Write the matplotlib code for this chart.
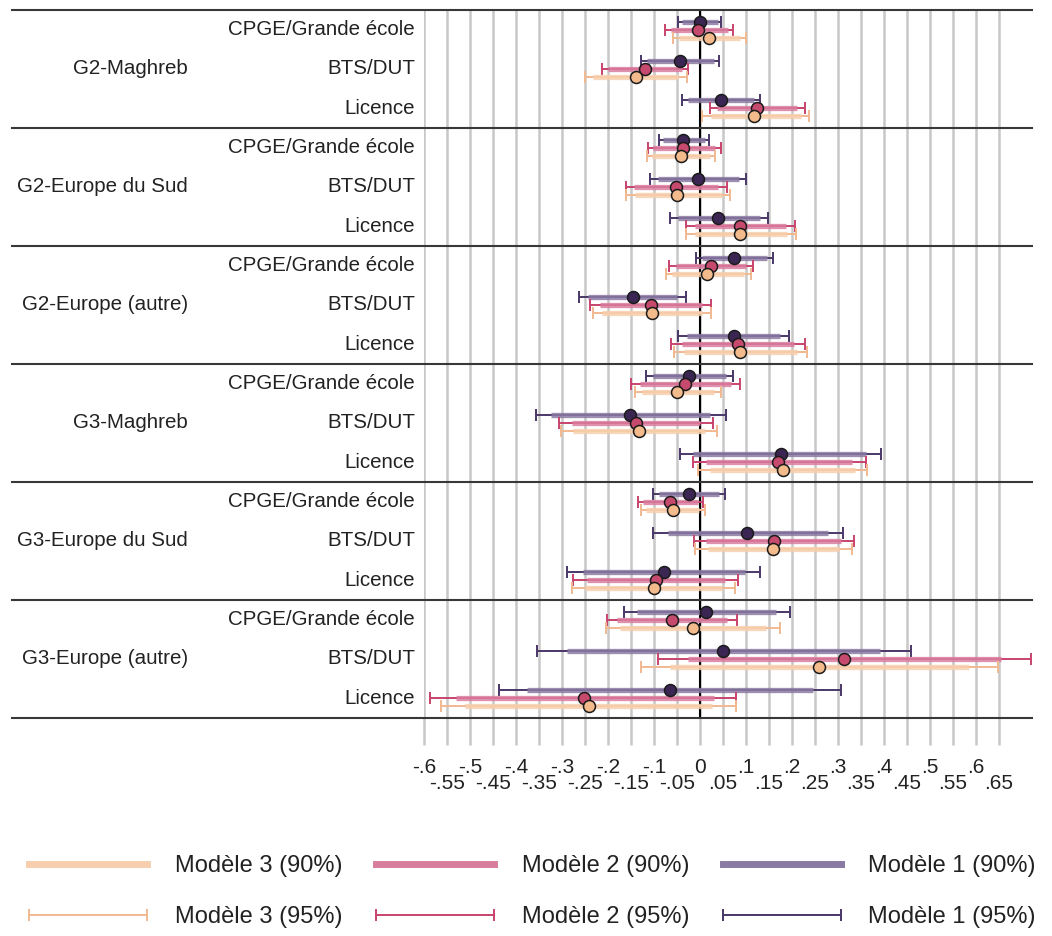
import numpy as np
import matplotlib
matplotlib.use("Agg")
import matplotlib.pyplot as plt
from matplotlib.lines import Line2D

plt.rcParams['font.family'] = ['Liberation Sans', 'DejaVu Sans']

# Categories (top to bottom)
groups = ["G2-Maghreb", "G2-Europe du Sud", "G2-Europe (autre)",
          "G3-Maghreb", "G3-Europe du Sud", "G3-Europe (autre)"]
levels = ["CPGE/Grande école", "BTS/DUT", "Licence"]

# Modèle 1: coef, 95% CI, 90% CI
m1_coef = [0.000, -0.043, 0.046, -0.036, -0.004, 0.040, 0.074, -0.146, 0.074,
           -0.023, -0.151, 0.176, -0.024, 0.103, -0.078, 0.014, 0.051, -0.066]
m1_lo95 = [-0.048, -0.128, -0.040, -0.090, -0.109, -0.065, -0.009, -0.262, -0.047,
           -0.118, -0.357, -0.043, -0.103, -0.103, -0.288, -0.166, -0.354, -0.438]
m1_hi95 = [0.046, 0.042, 0.130, 0.020, 0.100, 0.147, 0.158, -0.031, 0.194,
           0.072, 0.056, 0.393, 0.055, 0.312, 0.130, 0.195, 0.458, 0.306]
m1_lo90 = [-0.040, -0.115, -0.025, -0.080, -0.092, -0.048, 0.004, -0.243, -0.028,
           -0.103, -0.324, -0.015, -0.090, -0.070, -0.255, -0.137, -0.289, -0.377]
m1_hi90 = [0.040, 0.030, 0.117, 0.010, 0.085, 0.130, 0.145, -0.050, 0.175,
           0.057, 0.022, 0.362, 0.042, 0.278, 0.098, 0.166, 0.392, 0.246]

# Modèle 2
m2_coef = [-0.004, -0.120, 0.123, -0.036, -0.052, 0.088, 0.025, -0.107, 0.083,
           -0.033, -0.140, 0.170, -0.065, 0.160, -0.096, -0.061, 0.313, -0.252]
m2_lo95 = [-0.076, -0.214, 0.022, -0.114, -0.161, -0.030, -0.067, -0.239, -0.062,
           -0.150, -0.306, -0.016, -0.134, -0.014, -0.275, -0.203, -0.092, -0.587]
m2_hi95 = [0.071, -0.025, 0.228, 0.046, 0.058, 0.207, 0.115, 0.025, 0.228,
           0.088, 0.028, 0.361, 0.007, 0.335, 0.083, 0.081, 0.719, 0.079]
m2_lo90 = [-0.064, -0.199, 0.038, -0.101, -0.144, -0.011, -0.052, -0.218, -0.039,
           -0.131, -0.279, 0.014, -0.123, 0.014, -0.246, -0.180, -0.027, -0.530]
m2_hi90 = [0.060, -0.040, 0.210, 0.033, 0.040, 0.188, 0.100, 0.004, 0.205,
           0.068, 0.001, 0.330, -0.004, 0.307, 0.054, 0.058, 0.654, 0.030]

# Modèle 3
m3_coef = [0.020, -0.139, 0.118, -0.041, -0.049, 0.088, 0.016, -0.104, 0.088,
           -0.049, -0.133, 0.181, -0.059, 0.158, -0.100, -0.016, 0.259, -0.242]
m3_lo95 = [-0.058, -0.250, 0.004, -0.116, -0.160, -0.030, -0.074, -0.233, -0.057,
           -0.141, -0.303, -0.004, -0.129, -0.010, -0.278, -0.205, -0.129, -0.564]
m3_hi95 = [0.101, -0.029, 0.238, 0.033, 0.065, 0.209, 0.111, 0.025, 0.233,
           0.046, 0.038, 0.364, 0.010, 0.330, 0.077, 0.175, 0.648, 0.079]
m3_lo90 = [-0.045, -0.232, 0.023, -0.104, -0.142, -0.011, -0.060, -0.212, -0.034,
           -0.126, -0.276, 0.022, -0.118, 0.018, -0.249, -0.174, -0.066, -0.511]
m3_hi90 = [0.088, -0.047, 0.219, 0.021, 0.047, 0.190, 0.096, 0.004, 0.210,
           0.031, 0.010, 0.337, -0.001, 0.302, 0.048, 0.144, 0.585, 0.027]

models = [
    ("Modèle 1", m1_coef, m1_lo95, m1_hi95, m1_lo90, m1_hi90,
     "#4a3868", "#8a7aa3", "#3b2553", -0.2),
    ("Modèle 2", m2_coef, m2_lo95, m2_hi95, m2_lo90, m2_hi90,
     "#c8446e", "#d97d9f", "#c54a6d", 0.0),
    ("Modèle 3", m3_coef, m3_lo95, m3_hi95, m3_lo90, m3_hi90,
     "#f2b98f", "#f7cfae", "#f3ba8c", 0.2),
]

fig = plt.figure(figsize=(10.52, 9.36), dpi=100)
W, H = 1052, 936
px_l, px_r, px_t, px_b = 424, 1032, 10, 718
ax = fig.add_axes([px_l / W, 1 - px_b / H, (px_r - px_l) / W, (px_b - px_t) / H])

n = len(groups) * len(levels)
rows = np.arange(n) + 0.5

for k, (name, coef, lo95, hi95, lo90, hi90, c95, c90, cm, off) in enumerate(models):
    coef = np.array(coef)
    y = rows + off
    ax.errorbar(coef, y, xerr=[coef - np.array(lo95), np.array(hi95) - coef],
                fmt='none', ecolor=c95, elinewidth=1.4, capsize=4, capthick=1.4,
                zorder=3 + k * 0.1)
    ax.hlines(y, lo90, hi90, color=c90, lw=3.8, alpha=0.85, zorder=3.05 + k * 0.1)
    ax.plot(coef, y, 'o', ms=8.6, mfc=cm, mec='#1a1a1a', mew=1.1,
            zorder=5 + k)

ax.axvline(0, color='black', lw=1.5, zorder=2)

ax.set_xlim(-0.6, 0.722)
ax.set_ylim(n, 0)

def fmt(v):
    v = round(v, 2)
    if abs(v) < 1e-9:
        return "0"
    return ('%g' % v).replace('0.', '.', 1)

major = np.round(np.arange(-0.6, 0.61, 0.1), 2)
minor = np.round(np.arange(-0.55, 0.66, 0.1), 2)
ax.set_xticks(major)
ax.set_xticklabels([fmt(v) for v in major])
ax.set_xticks(minor, minor=True)
ax.set_xticklabels([fmt(v) for v in minor], minor=True)
ax.tick_params(axis='x', which='both', length=19.5, width=1.8, color='#c8c8c8',
               labelsize=15, labelcolor='#222222')
ax.tick_params(axis='x', which='major', pad=9)
ax.tick_params(axis='x', which='minor', pad=20.5)
ax.set_yticks([])
ax.grid(axis='x', which='both', color='#c8c8c8', lw=1.8, zorder=0)
ax.set_axisbelow(True)
for s in ax.spines.values():
    s.set_visible(False)

# separators spanning the label area
ext = (12 - px_l) / (px_r - px_l)
for yb in range(0, n + 1, 3):
    ax.axhline(yb, xmin=ext, xmax=1, color='#383838', lw=1.5, clip_on=False, zorder=2)

lab_x = (415 - px_l) / (px_r - px_l)
grp_x = (188 - px_l) / (px_r - px_l)
tr = ax.get_yaxis_transform()
for g, gname in enumerate(groups):
    for j, lname in enumerate(levels):
        ax.text(lab_x, g * 3 + j + 0.5, lname, transform=tr, ha='right', va='center',
                fontsize=14.8, color='#222222')
    ax.text(grp_x, g * 3 + 1.5, gname, transform=tr, ha='right', va='center',
            fontsize=14.8, color='#222222')

# legend
handles, labels = [], []
for name, coef, lo95, hi95, lo90, hi90, c95, c90, cm, off in reversed(models):
    handles.append(Line2D([], [], color=c90, lw=5))
    labels.append(name + " (90%)")
    handles.append(Line2D([], [], color=c95, lw=1.4, marker='|', ms=8, mew=1.4))
    labels.append(name + " (95%)")
fig.legend(handles, labels, ncol=3, loc='center', bbox_to_anchor=(0.503, 0.0475),
           frameon=False, fontsize=17, numpoints=2, handlelength=5.6,
           handletextpad=0.85, columnspacing=1.15, labelspacing=1.25,
           labelcolor='#222222')

fig.savefig("out.png", dpi=100, facecolor='white')
